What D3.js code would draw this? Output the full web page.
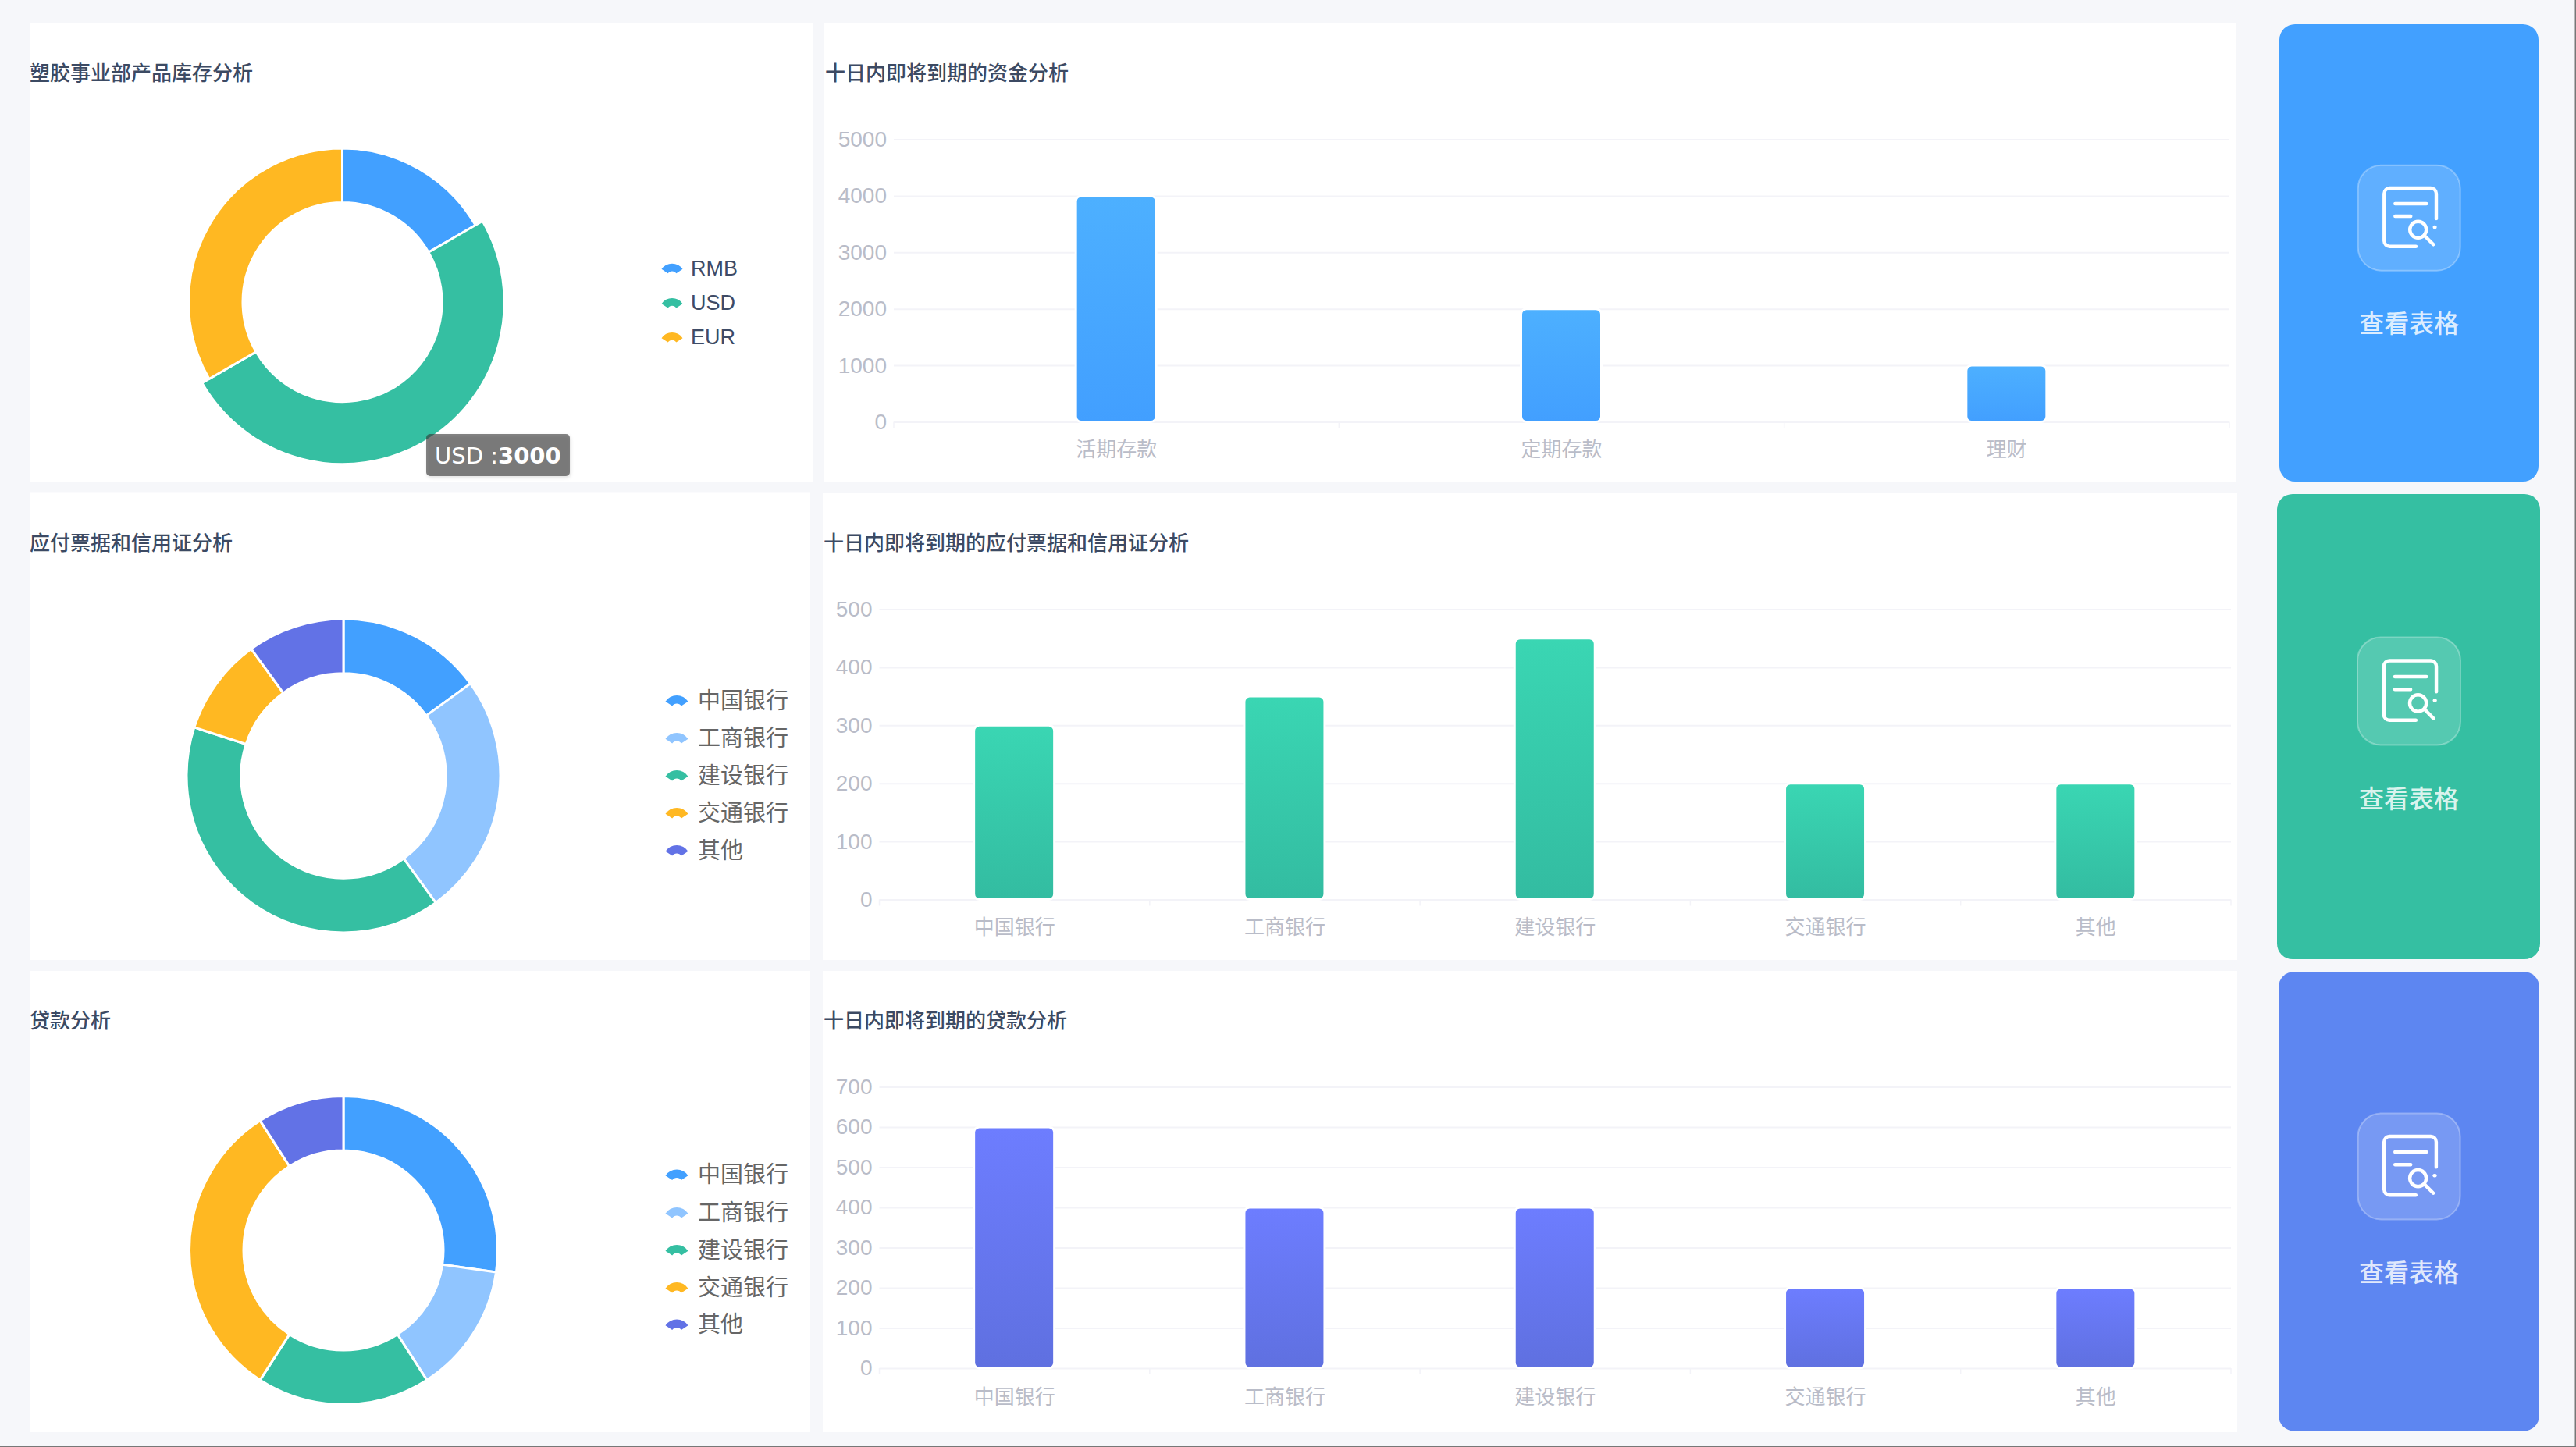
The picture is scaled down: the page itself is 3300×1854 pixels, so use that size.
<!DOCTYPE html>
<html>
<head>
<meta charset="utf-8">
<script src="https://cdn.jsdelivr.net/npm/d3@7"></script>
<style>
  html, body { margin: 0; padding: 0; background: #f6f7fa; overflow: hidden; }
  svg { display: block; }
  text { font-family: "Liberation Sans", "Noto Sans CJK SC", sans-serif; }
  .title { font-family: "Noto Sans CJK SC", sans-serif; font-size: 26px; font-weight: 500; fill: #3c4a63; }
  .grid .domain { display: none; }
  .grid line { stroke: #f3f3f8; stroke-width: 2px; }
  .axis .domain { display: none; }
  .axis line { stroke: none; }
  .axis text { font-size: 28px; fill: #b9bcc8; }
  .edge-tick { stroke: #f3f3f8; stroke-width: 1.5px; }
</style>
</head>
<body>
<svg id="chart" width="3300" height="1854"></svg>
<script>
const stockNames = ["RMB", "USD", "EUR"];
const stockValues = [1000, 3000, 2000];
const bankNames = ["中国银行", "工商银行", "建设银行", "交通银行", "其他"];
const billShareValues = [150, 250, 400, 100, 100];
const loanShareValues = [300, 150, 200, 350, 100];

const fundCategories = ["活期存款", "定期存款", "理财"];
const fundValues = [4000, 2000, 1000];
const fundTicks = [0, 1000, 2000, 3000, 4000, 5000];
const billValues = [300, 350, 450, 200, 200];
const billTicks = [0, 100, 200, 300, 400, 500];
const loanValues = [600, 400, 400, 200, 200];
const loanTicks = [0, 100, 200, 300, 400, 500, 600, 700];

const stockColors = ["#42a0ff", "#35bfa2", "#ffb822"];
const bankColors = ["#42a0ff", "#90c5ff", "#35bfa2", "#ffb822", "#6272e6"];

const svg = d3.select("#chart");
const defs = svg.append("defs");

const shadow = defs.append("filter").attr("id", "tip-shadow").attr("x", "-10%").attr("y", "-20%").attr("width", "120%").attr("height", "140%");
shadow.append("feDropShadow").attr("dx", 1).attr("dy", 2).attr("stdDeviation", 2).attr("flood-color", "#000").attr("flood-opacity", 0.2);

function panel(x0, y0, x1, y1) {
  svg.append("rect").attr("x", x0).attr("y", y0).attr("width", x1 - x0).attr("height", y1 - y0).attr("fill", "#fff");
}

function title(x, y, label) {
  svg.append("text").attr("class", "title").attr("x", x).attr("y", y).attr("dy", "0.35em").text(label);
}

function drawDonut(config) {
  const { cx, cy, outer, inner, names, values, colors, hotIndex = -1, hotOuter, legendX, legendTextX, legendY, legendFont, legendColor, iconScale } = config;
  const g = svg.append("g").attr("transform", `translate(${cx},${cy})`);
  const pie = d3.pie().sort(null)(values);

  g.selectAll("path")
    .data(pie)
    .join("path")
    .attr("d", (d) => d3.arc().innerRadius(inner).outerRadius(d.index === hotIndex ? hotOuter : outer)(d))
    .attr("fill", (d, i) => colors[i])
    .attr("stroke", "#fff")
    .attr("stroke-width", 3)
    .attr("stroke-linejoin", "round");

  // legend icon is a little fan, not a circle
  const fan = d3.arc()
    .innerRadius(7 * iconScale)
    .outerRadius(17.5 * iconScale)
    .startAngle((-56 * Math.PI) / 180)
    .endAngle((56 * Math.PI) / 180)();

  names.forEach((name, i) => {
    const y = legendY[i];
    svg.append("path")
      .attr("d", fan)
      .attr("transform", `translate(${legendX},${y + 11 * iconScale})`)
      .attr("fill", colors[i]);
    svg.append("text")
      .attr("x", legendTextX)
      .attr("y", y)
      .attr("dy", "0.35em")
      .attr("font-size", legendFont)
      .attr("fill", legendColor)
      .text(name);
  });
}

function drawBars(config) {
  const { left, right, top, bottom, labelY, categories, values, ticks, gradient, barWidth = 103 } = config;
  const xScale = d3.scaleBand().domain(categories).range([left, right]);
  const yScale = d3.scaleLinear().domain([ticks[0], ticks[ticks.length - 1]]).range([bottom, top]);
  const gradId = "grad-" + gradient.join("").replace(/#/g, "");

  const grad = defs.append("linearGradient").attr("id", gradId).attr("x1", 0).attr("y1", 0).attr("x2", 0).attr("y2", 1);
  grad.append("stop").attr("offset", "0%").attr("stop-color", gradient[0]);
  grad.append("stop").attr("offset", "100%").attr("stop-color", gradient[1]);

  svg.append("g")
    .attr("class", "grid")
    .attr("transform", `translate(${left},0)`)
    .call(d3.axisLeft(yScale).tickValues(ticks).tickSize(-(right - left)).tickFormat(""));

  svg.append("g")
    .attr("class", "axis axis-y")
    .attr("transform", `translate(${left},0)`)
    .call(d3.axisLeft(yScale).tickValues(ticks).tickSize(0).tickPadding(9).tickFormat(d3.format("d")));

  svg.append("g")
    .attr("class", "axis axis-x")
    .attr("transform", `translate(0,${labelY})`)
    .call(d3.axisBottom(xScale).tickSize(0).tickPadding(0))
    .selectAll("text")
    .attr("dy", "0.35em")
    .attr("y", 0)
    .style("font-size", "26px");

  // ticks sit on the band edges
  svg.append("g")
    .selectAll("line")
    .data(categories.map((c) => xScale(c)).concat(right))
    .join("line")
    .attr("class", "edge-tick")
    .attr("x1", (d) => d)
    .attr("x2", (d) => d)
    .attr("y1", bottom)
    .attr("y2", bottom + 8);

  svg.append("g")
    .selectAll("rect")
    .data(values)
    .join("rect")
    .attr("x", (d, i) => xScale(categories[i]) + xScale.bandwidth() / 2 - barWidth / 2 - 0.5)
    .attr("y", (d) => yScale(d))
    .attr("width", barWidth)
    .attr("height", (d) => yScale(0) - yScale(d))
    .attr("rx", 7)
    .attr("fill", `url(#${gradId})`)
    .attr("stroke", "#fff")
    .attr("stroke-width", 3);
}

function drawCard(config) {
  const { x0, y0, x1, y1, fill, boxX, boxY, boxW, boxH, textY } = config;
  svg.append("rect").attr("x", x0).attr("y", y0).attr("width", x1 - x0).attr("height", y1 - y0).attr("rx", 20).attr("fill", fill);
  svg.append("rect")
    .attr("x", boxX).attr("y", boxY).attr("width", boxW).attr("height", boxH).attr("rx", 30)
    .attr("fill", "rgba(255,255,255,0.16)")
    .attr("stroke", "rgba(255,255,255,0.3)")
    .attr("stroke-width", 2);

  const icon = svg.append("g")
    .attr("transform", `translate(${boxX},${boxY}) scale(${boxW / 131},${boxH / 135})`)
    .attr("fill", "none")
    .attr("stroke", "#fff")
    .attr("stroke-width", 4.4)
    .attr("stroke-linecap", "round");
  icon.append("path").attr("d", "M100.3 68.3V36.3a7 7 0 0 0-7-7H40.6a7 7 0 0 0-7 7V97a7 7 0 0 0 7 7H74.3");
  icon.append("path").attr("d", "M47.6 49.3H87.6M47.6 65.3H67.6");
  icon.append("circle").attr("cx", 77).attr("cy", 82.6).attr("r", 10.5);
  icon.append("path").attr("d", "M85 90L96.6 101.6");
  icon.append("path").attr("d", "M98 79.3H98.8");

  svg.append("text")
    .attr("x", boxX + boxW / 2)
    .attr("y", textY)
    .attr("dy", "0.35em")
    .attr("text-anchor", "middle")
    .attr("font-family", "Noto Sans CJK SC")
    .attr("font-size", 32)
    .attr("font-weight", 500)
    .attr("fill", "rgba(255,255,255,0.82)")
    .text("查看表格");
}

// row 1
panel(38, 29.5, 1041, 617.5);
panel(1056, 29.5, 2864, 617.5);
title(38, 94, "塑胶事业部产品库存分析");
title(1057, 94, "十日内即将到期的资金分析");
drawDonut({
  cx: 438.5, cy: 387, outer: 197, inner: 127.5, names: stockNames, values: stockValues, colors: stockColors,
  hotIndex: 1, hotOuter: 207.5,
  legendX: 861, legendTextX: 885, legendY: [343.7, 388, 432], legendFont: 27, legendColor: "#3e4b66", iconScale: 0.93
});
drawBars({
  left: 1145, right: 2856, top: 178.5, bottom: 540.5, labelY: 575.5,
  categories: fundCategories, values: fundValues, ticks: fundTicks, gradient: ["#4db0ff", "#429fff"]
});
drawCard({ x0: 2920, y0: 31, x1: 3252, y1: 617, fill: "#42a0ff", boxX: 3020.7, boxY: 211.7, boxW: 131, boxH: 135, textY: 415 });

// row 2
panel(38, 631.5, 1038, 1230);
panel(1054, 632, 2866, 1230);
title(38, 695.5, "应付票据和信用证分析");
title(1055, 696, "十日内即将到期的应付票据和信用证分析");
drawDonut({
  cx: 440, cy: 994, outer: 201, inner: 131.2, names: bankNames, values: billShareValues, colors: bankColors,
  legendX: 867, legendTextX: 894, legendY: [897.5, 945.5, 993.5, 1041.5, 1089.5], legendFont: 29, legendColor: "#666", iconScale: 1
});
drawBars({
  left: 1126.5, right: 2858, top: 780.5, bottom: 1152.5, labelY: 1188,
  categories: bankNames, values: billValues, ticks: billTicks, gradient: ["#3ad6b3", "#33bca1"]
});
drawCard({ x0: 2917, y0: 633, x1: 3254, y1: 1229, fill: "#35bfa2", boxX: 3020, boxY: 816.5, boxW: 132, boxH: 138, textY: 1024 });

// row 3
panel(38, 1244, 1038, 1835);
panel(1054, 1244, 2866, 1835);
title(38, 1307.5, "贷款分析");
title(1055, 1307.5, "十日内即将到期的贷款分析");
drawDonut({
  cx: 440, cy: 1602, outer: 197.5, inner: 128, names: bankNames, values: loanShareValues, colors: bankColors,
  legendX: 867, legendTextX: 894, legendY: [1505, 1553.5, 1601.5, 1649.5, 1697], legendFont: 29, legendColor: "#666", iconScale: 1
});
drawBars({
  left: 1126.5, right: 2858, top: 1392.5, bottom: 1753, labelY: 1790,
  categories: bankNames, values: loanValues, ticks: loanTicks, gradient: ["#6d7dff", "#5f70e0"]
});
drawCard({ x0: 2919, y0: 1245, x1: 3253, y1: 1833.5, fill: "#5d86f1", boxX: 3020.6, boxY: 1426.4, boxW: 131, boxH: 136, textY: 1631 });

// hover tooltip left on the first donut
const tip = svg.append("g");
tip.append("rect")
  .attr("x", 546).attr("y", 556).attr("width", 184).attr("height", 54).attr("rx", 5)
  .attr("fill", "rgba(50,50,50,0.6)")
  .attr("filter", "url(#tip-shadow)");
const tipText = tip.append("text")
  .attr("x", 557).attr("y", 584).attr("dy", "0.35em")
  .style("font-family", "'DejaVu Sans'")
  .attr("font-size", 29)
  .attr("fill", "#fff");
tipText.append("tspan").text(stockNames[1] + " :");
tipText.append("tspan").attr("font-weight", "bold").text(stockValues[1]);

// window edge lines from the screenshot
svg.append("rect").attr("x", 3298.5).attr("y", 0).attr("width", 1.5).attr("height", 1854).attr("fill", "#777");
svg.append("rect").attr("x", 0).attr("y", 1853).attr("width", 3300).attr("height", 1).attr("fill", "#777");
</script>
</body>
</html>
